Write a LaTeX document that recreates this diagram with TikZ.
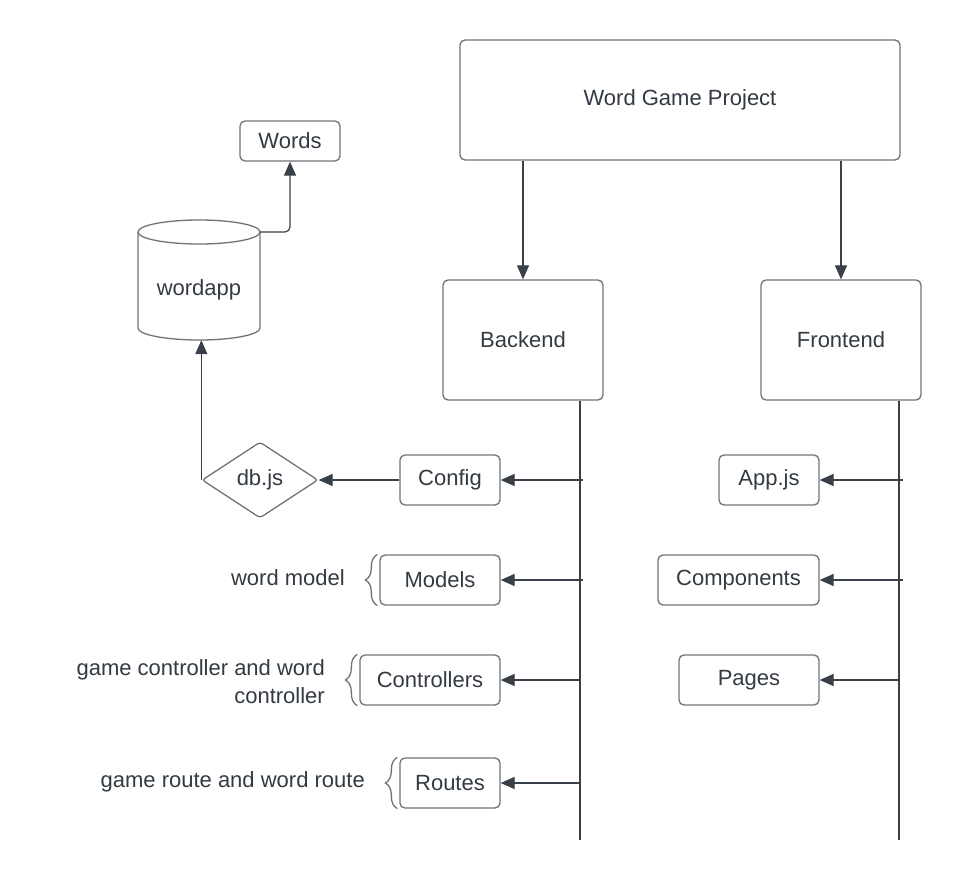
\documentclass[tikz,border=0pt]{standalone}
\usepackage{fontspec}
\setmainfont{Liberation Sans}
\usetikzlibrary{arrows.meta,shapes.geometric,decorations.pathreplacing}
\definecolor{txt}{HTML}{333A42}
\definecolor{bord}{HTML}{6E737A}
\definecolor{ln}{HTML}{3A4048}
\begin{document}
\begin{tikzpicture}[x=1pt,y=-1pt,
  lbl/.style={font=\fontsize{22pt}{28pt}\selectfont, text=txt, inner sep=0pt},
  box/.style={lbl, draw=bord, line width=1.3pt, rounded corners=5pt},
  arr/.style={draw=ln, line width=1.2pt, -{Triangle[length=14pt,width=12pt]}},
  plain/.style={draw=ln, line width=1.2pt},
  brc/.style={draw=bord, line width=1.3pt, decorate, decoration={brace, amplitude=12pt}}]
\useasboundingbox (0,0) rectangle (961,880);
% main boxes
\node[box, minimum width=440pt, minimum height=120pt] (wgp) at (680,100) {Word Game Project};
\node[box, minimum width=160pt, minimum height=120pt] (backend) at (523,340) {Backend};
\node[box, minimum width=160pt, minimum height=120pt] (frontend) at (841,340) {Frontend};
\draw[arr] (wgp.south -| backend.north) -- (backend.north);
\draw[arr] (wgp.south -| frontend.north) -- (frontend.north);
% spines
\coordinate (bspine) at (580,840);
\coordinate (fspine) at (899,840);
\draw[plain] (backend.south -| bspine) -- (bspine);
\draw[plain] (frontend.south -| fspine) -- (fspine);
% backend children
\node[box, minimum width=100pt, minimum height=50pt] (config) at (450,480) {Config};
\node[box, minimum width=120pt, minimum height=50pt] (models) at (440,580) {Models};
\node[box, minimum width=140pt, minimum height=50pt] (controllers) at (430,680) {Controllers};
\node[box, minimum width=100pt, minimum height=50pt] (routes) at (450,783) {Routes};
\coordinate (bc) at (583,480);
\coordinate (bm) at (583,580);
\draw[arr] (bc) -- (config.east);
\draw[arr] (bm) -- (models.east);
\draw[arr] (bspine |- controllers.east) -- (controllers.east);
\draw[arr] (bspine |- routes.east) -- (routes.east);
% frontend children
\node[box, minimum width=100pt, minimum height=50pt] (appjs) at (769,480) {App.js};
\node[box, minimum width=161pt, minimum height=50pt] (components) at (738.5,580) {Components};
\node[box, minimum width=140pt, minimum height=50pt] (pages) at (749,680) {Pages};
\coordinate (fa) at (903,480);
\coordinate (fc) at (903,580);
\draw[arr] (fa) -- (appjs.east);
\draw[arr] (fc) -- (components.east);
\draw[arr] (fspine |- pages.east) -- (pages.east);
% db
\node[lbl, diamond, draw=bord, line width=1.3pt, rounded corners=3pt, aspect=1.5, minimum width=116pt, minimum height=76pt] (dbjs) at (260,480) {db.js};
\draw[arr] (config.west) -- (dbjs.east);
\node[lbl, minimum width=122pt, minimum height=100pt] (wordapp) at (199,290) {wordapp};
\draw[draw=bord, line width=1.3pt] (199,232) ellipse [x radius=61pt, y radius=12pt];
\draw[draw=bord, line width=1.3pt] (138,232) -- (138,328) arc[start angle=180, end angle=360, x radius=61pt, y radius=12pt] -- (260,232);
\draw[arr] (dbjs.west) -- (dbjs.west |- wordapp.south);
\node[box, minimum width=100pt, minimum height=40pt] (words) at (290,141) {Words};
\coordinate (cylr) at (260,232);
\draw[arr, rounded corners=5pt] (cylr) -| (words.south);
% braces and notes
\draw[brc] ([xshift=-2pt]models.south west) -- ([xshift=-2pt]models.north west);
\draw[brc] ([xshift=-2pt]controllers.south west) -- ([xshift=-2pt]controllers.north west);
\draw[brc] ([xshift=-2pt]routes.south west) -- ([xshift=-2pt]routes.north west);
\node[lbl, anchor=east] (nmodel) at (345,578) {word model};
\node[lbl, anchor=east, align=right] (nctrl) at (325,682) {game controller and word\\controller};
\node[lbl, anchor=east] (nroute) at (365,782) {game route and word route};
\end{tikzpicture}
\end{document}
